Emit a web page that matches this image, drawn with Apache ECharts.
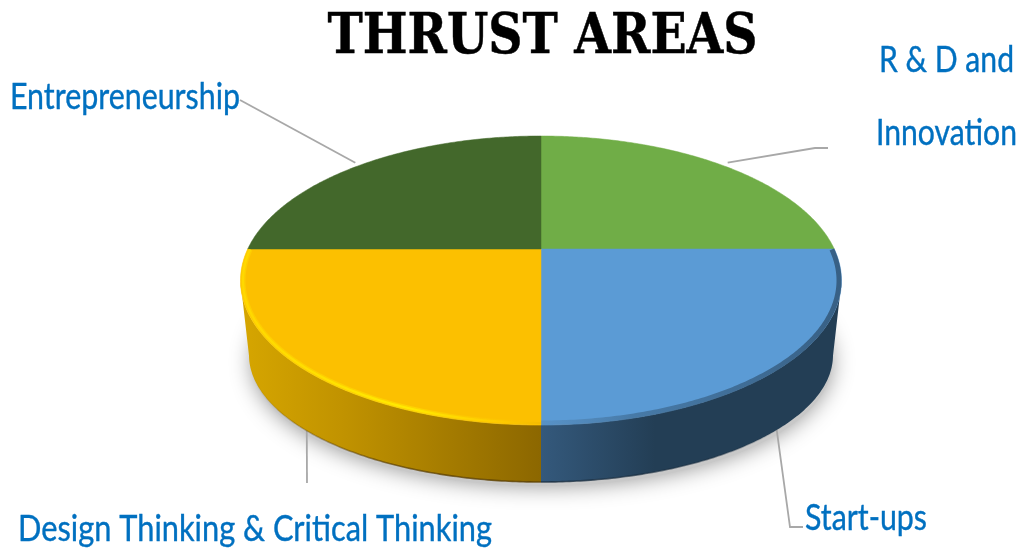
<!DOCTYPE html>
<html><head><meta charset="utf-8">
<style>html,body{margin:0;padding:0;background:#fff}#c{width:1021px;height:548px}</style>
<script src="https://cdn.jsdelivr.net/npm/echarts@6/dist/echarts.min.js"></script>
</head><body><div id="c"></div>
<script>
const categories = ['R & D and\nInnovation', 'Start-ups', 'Design Thinking & Critical Thinking', 'Entrepreneurship'];
const values = [25, 25, 25, 25];
const titleText = 'THRUST AREAS';

// drawing style and layout, kept apart from the data
const faceColors = ['#70ad47', '#5b9bd5', '#fcc000', '#43682b'];
const rimStops = [null,
  [[0, '#34597c'], [0.38, '#233e55'], [1, '#233e55']],
  [[0, '#d6a600'], [0.35, '#c09200'], [1, '#8c6700']],
  null];
const top_ = {cx: 541, cy: 280.5, rx: 300.5, ry: 144.5};
const bevel_ = {cx: 541, cy: 280.5, rx: 298, ry: 142.5};
const bot_ = {cx: 541, cy: 355, rx: 292, ry: 127};
const boost = 31.5 / 144.5; // how far the perspective pulls the pie's centre up the ellipse
const leaderEnds = [[[815, 148], [828, 148]], [[790, 527], [803, 527]], [[307, 483]], [[240, 100]]];
const leaderNudge = [[7, -2], [-3, -2], [4, -1], [-6, -2]];
const labelLayout = [
  {x: 946.5, y: 97, align: 'center', width: 141},
  {x: 805, y: 518, align: 'left', width: 122},
  {x: 18, y: 529, align: 'left', width: 474},
  {x: 10, y: 97, align: 'left', width: 230}
];
const LABEL_FONT = '37px Lato,"Noto Sans",sans-serif';
const TITLE_FONT = 'bold 56px "DejaVu Serif",serif';
const total = values.reduce((a, b) => a + b, 0);

const ctx = document.createElement('canvas').getContext('2d');
function fitScale(text, font, width) {
  ctx.font = font;
  return width / Math.max(...text.split('\n').map(s => ctx.measureText(s).width));
}
function persp(t) {
  const X = Math.cos(t), Y = Math.sin(t), b = -boost, den = 1 + b * Y;
  return [X * Math.sqrt(1 - b * b) / den, (Y + b) / den];
}
const onto = (e, p) => [e.cx + e.rx * p[0], e.cy + e.ry * p[1]];
function arc(a0, a1) { const o = []; for (let i = 0; i <= 160; i++) o.push(persp(a0 + (a1 - a0) * i / 160)); return o; }
const LG = (x0, x1, stops) => new echarts.graphic.LinearGradient(x0, 0, x1, 0, stops.map(s => ({offset: s[0], color: s[1]})), true);

function renderSlice(params, api) {
  const i = params.dataIndex;
  const before = values.slice(0, i).reduce((a, b) => a + b, 0);
  const a0 = -Math.PI / 2 + 2 * Math.PI * before / total;
  const a1 = a0 + 2 * Math.PI * api.value(0) / total;
  const pts = arc(a0, a1);
  const kids = [];
  const mid = persp((a0 + a1) / 2);
  const vis = pts.filter(p => p[1] >= 0);
  const isFront = vis.length > 2;
  // leader line
  const base = onto(mid[1] > 0 ? bot_ : top_, mid);
  const anchor = [base[0] + leaderNudge[i][0], base[1] + leaderNudge[i][1]];
  kids.push({type: 'polyline', z2: 1, shape: {points: [anchor].concat(leaderEnds[i])}, style: {fill: null, stroke: '#a8a8a8', lineWidth: 1.8}});
  if (isFront) {
    const t = vis.map(p => onto(top_, p));
    const b = vis.map(p => onto(bot_, p)).reverse();
    const xs = t.concat(b).map(p => p[0]);
    const left = Math.min(...xs), right = Math.max(...xs);
    kids.push({type: 'polygon', z2: 2, shape: {points: t.concat(b)}, style: {fill: LG(left, right, rimStops[i]), stroke: null}});
    const dark = i === 2
      ? LG(249, 541, [[0, 'rgba(90,62,0,0)'], [0.15, 'rgba(90,62,0,0.25)'], [0.5, 'rgba(90,62,0,0.7)'], [1, 'rgba(90,62,0,0.8)']])
      : LG(541, 833, [[0, 'rgba(24,44,62,0.8)'], [0.6, 'rgba(24,44,62,0.5)'], [0.85, 'rgba(24,44,62,0)'], [1, 'rgba(24,44,62,0)']]);
    kids.push({type: 'polyline', z2: 3, shape: {points: b}, style: {fill: null, stroke: dark, lineWidth: 1.6}});
  }
  const face = [[top_.cx, onto(top_, persp(0))[1]]].concat(pts.map(p => onto(top_, p)));
  kids.push({type: 'polygon', z2: 4, shape: {points: face}, style: {fill: faceColors[i], stroke: faceColors[i], lineWidth: 0.5}});
  if (isFront) {
    const t = pts.map(p => onto(bevel_, p));
    if (i === 2) {
      kids.push({type: 'polyline', z2: 5, shape: {points: t}, style: {fill: null, lineWidth: 5,
        stroke: LG(241, 541, [[0, 'rgba(255,214,0,0.55)'], [0.6, 'rgba(255,226,0,0.55)'], [1, 'rgba(252,192,0,0.2)']])}});
      kids.push({type: 'polyline', z2: 6, shape: {points: t}, style: {fill: null, lineWidth: 2.2,
        stroke: LG(241, 541, [[0, '#ffd800'], [0.55, '#ffea00'], [0.85, '#ffcc00'], [1, '#f5bb00']])}});
    } else {
      kids.push({type: 'polyline', z2: 5, shape: {points: t}, style: {fill: null, lineWidth: 5,
        stroke: LG(541, 842, [[0, 'rgba(80,125,165,0.3)'], [0.3, 'rgba(55,95,130,0.55)'], [1, 'rgba(40,70,98,0.7)']])}});
    }
  }
  const L = labelLayout[i];
  const text = categories[api.value(1)];
  kids.push({type: 'text', z2: 7, x: L.x, y: L.y, scaleX: fitScale(text, LABEL_FONT, L.width), style: {
    text, x: 0, y: 0, font: LABEL_FONT, fill: '#0070c0', align: L.align, verticalAlign: 'middle', lineHeight: 73,
    stroke: '#0070c0', lineWidth: 0.4
  }});
  return {type: 'group', children: kids};
}

const chart = echarts.init(document.getElementById('c'), null, {renderer: 'canvas'});
chart.setOption({
  animation: false,
  backgroundColor: '#ffffff',
  graphic: [
    {type: 'ellipse', z: 0, silent: true, shape: {cx: 542, cy: 362, rx: 290, ry: 124},
      style: {fill: '#c8c8c8', shadowBlur: 22, shadowColor: 'rgba(0,0,0,0.42)'}},
    {type: 'text', z: 5, silent: true, x: 542.5, y: 38, scaleX: fitScale(titleText, TITLE_FONT, 430),
      style: {text: titleText, x: 0, y: 0, font: TITLE_FONT, fill: '#000', align: 'center', verticalAlign: 'middle', stroke: '#000', lineWidth: 0.5}}
  ],
  series: [{
    type: 'custom', coordinateSystem: 'none', z: 2,
    data: values.map((v, i) => ({name: categories[i], value: [v, i]})),
    renderItem: renderSlice
  }]
});
</script></body></html>
